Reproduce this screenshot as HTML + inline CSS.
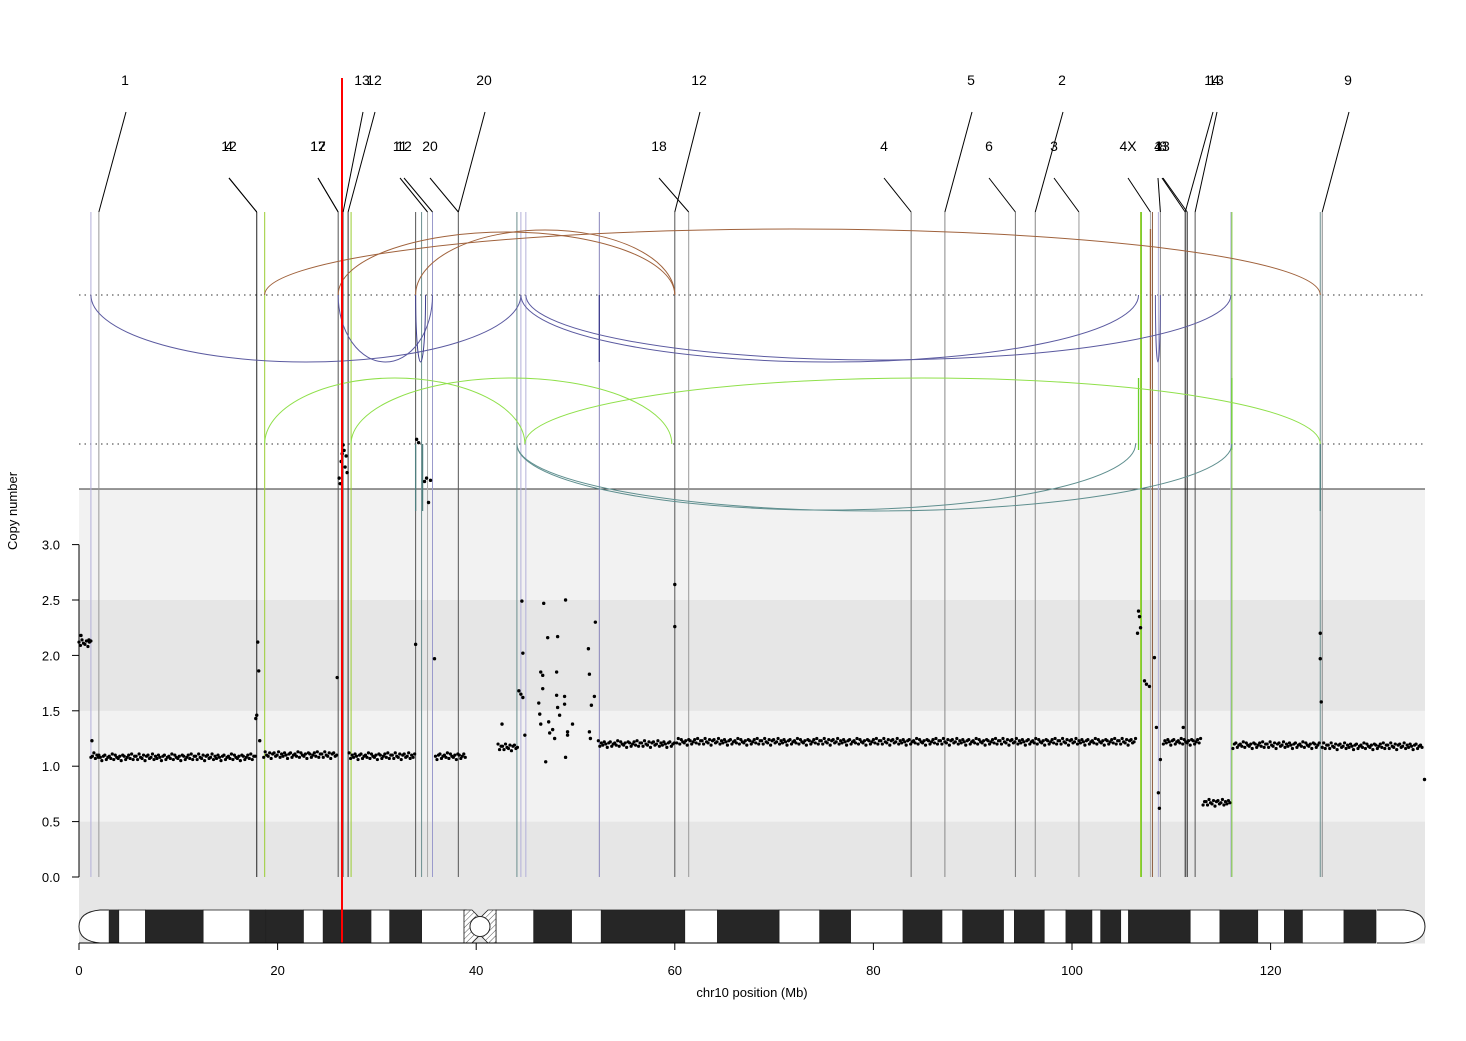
<!DOCTYPE html>
<html><head><meta charset="utf-8">
<style>
html,body{margin:0;padding:0;background:#fff;}
svg{display:block;font-family:"Liberation Sans",sans-serif;}
</style></head>
<body>
<svg id="chart" width="1466" height="1041" viewBox="0 0 1466 1041" xmlns="http://www.w3.org/2000/svg">
<g id="bg"></g><g id="vlines"></g><g id="arcs"></g><g id="pts"></g><g id="ideo"></g><g id="axes"></g><g id="labels"></g>
</svg>
<script>
// ---- data ----
const segStart = [0, 1.2, 2.0, 18.6, 27.2, 35.9, 42.2, 52.3, 60.2, 109.2, 113.2, 116.2, 125.2];
const segEnd   = [1.2, 2.0, 17.8, 26.0, 33.8, 39.0, 44.2, 60.0, 106.5, 113.0, 116.0, 125.0, 135.3];
const segLevel = [2.11, 1.09, 1.08, 1.1, 1.09, 1.09, 1.17, 1.2, 1.22, 1.22, 0.67, 1.19, 1.18];
const noise = [0.01,-0.02,0.03,0.0,-0.01,0.02,-0.03,0.01,0.02,-0.01,0.0,0.03,-0.02,0.01,-0.01,0.02,0.0,-0.03,0.01,0.02,-0.02,0.0,0.01,-0.01,0.03,-0.02,0.02,0.0,-0.01,0.01,-0.03,0.02,0.01,-0.02,0.0,0.02,-0.01,0.03,-0.02,0.01];
const outMb  = [1.0,0.2,1.3,17.8,17.9,18.0,18.1,18.2,26.0,26.2,26.4,26.5,26.6,26.7,26.8,26.9,27.0,26.3,33.9,34.0,34.2,34.8,35.0,35.2,35.4,35.8,42.6,44.3,44.5,44.7,44.6,46.8,49.0,52.0,47.2,48.2,44.7,51.3,46.5,48.1,46.7,51.4,46.7,48.1,51.9,48.9,48.9,51.6,46.3,46.4,48.2,47.3,48.4,49.7,46.5,47.7,47.4,47.9,49.2,49.2,51.4,44.9,51.5,47.0,49.0,60.0,60.0,106.6,106.7,106.8,106.9,107.3,107.5,107.8,108.3,108.5,108.7,108.8,108.9,125.0,125.0,125.1,135.5,111.2];
const outVal = [2.14,2.18,1.23,1.43,1.46,2.12,1.86,1.23,1.8,3.6,3.75,3.82,3.9,3.85,3.7,3.8,3.65,3.55,2.1,3.95,3.92,3.57,3.6,3.38,3.58,1.97,1.38,1.68,1.65,1.62,2.49,2.47,2.5,2.3,2.16,2.17,2.02,2.06,1.85,1.85,1.82,1.83,1.7,1.64,1.63,1.63,1.56,1.55,1.57,1.47,1.53,1.4,1.46,1.38,1.38,1.33,1.3,1.25,1.31,1.28,1.31,1.28,1.25,1.04,1.08,2.64,2.26,2.2,2.4,2.35,2.25,1.77,1.74,1.72,1.98,1.35,0.76,0.62,1.06,2.2,1.97,1.58,0.88,1.35];
const bandStart = [0,3,4,6.7,12.5,17.2,18.8,22.6,24.6,29.4,31.3,34.5,38.8,42.0,45.8,49.6,52.6,61.0,64.3,70.5,74.6,77.7,83.0,86.9,89.0,93.1,94.2,97.2,99.4,102.0,102.9,104.9,105.7,111.9,114.9,118.7,121.4,123.2,127.4,130.6];
const bandEnd   = [3,4,6.7,12.5,17.2,18.8,22.6,24.6,29.4,31.3,34.5,38.8,39.0,45.8,49.6,52.6,61.0,64.3,70.5,74.6,77.7,83.0,86.9,89.0,93.1,94.2,97.2,99.4,102.0,102.9,104.9,105.7,111.9,114.9,118.7,121.4,123.2,127.4,130.6,135.5];
const bandDark  = [0,1,0,1,0,1,1,0,1,0,1,0,0,0,1,0,1,0,1,0,1,0,1,0,1,0,1,0,1,0,1,0,1,0,1,0,1,0,1,0];
const breakMb = [1.2,2.0,17.9,18.7,26.1,26.6,27.1,27.4,33.9,34.5,35.1,35.6,38.2,44.1,44.5,45.0,52.4,60.0,61.4,83.8,87.2,94.3,96.3,100.7,106.9,107.0,107.9,108.1,108.7,108.9,111.4,111.6,112.4,116.0,116.1,125.0,125.2];
const breakCol = ["#b3b0d9","#999","#222","#9acd32","#555","#666","#333","#9acd32","#555","#6a8e8e","#aaa","#9a9acc","#555","#6a8e8e","#b3b0d9","#b3b0d9","#8884bb","#555","#999","#777","#888","#777","#888","#999","#9acd32","#7acd32","#aaa","#8b5a3c","#b3b0d9","#888","#222","#222","#555","#b3b0d9","#7acd32","#6a8e8e","#888"];
const row1Text = ["1","13","12","20","12","5","2","14","13","9"];
const row1X    = [125,362,374,484,699,971,1062,1212,1216,1348];
const row1Mb   = [2.0,26.6,27.1,38.2,60.0,87.2,96.3,111.4,112.4,125.2];
const row2Text = ["12","4","17","12","11","12","20","18","4","6","3","4X","4","13","8"];
const row2X    = [229,229,318,318,400,404,430,659,884,989,1054,1128,1158,1162,1163];
const row2Mb   = [17.9,17.9,26.1,26.1,35.1,35.6,38.2,61.4,83.8,94.3,100.7,107.9,108.9,111.4,111.6];
// arcs: [startMb, endMb, baseline y, height px (+up / -down), color]
const arcA = [18.7,26.1,33.9,1.2,26.1,33.9,44.5,45.0,108.4,18.7,27.4,44.9,44.1,44.1];
const arcB = [125.0,60.0,60.0,44.5,35.6,34.9,106.7,116.0,108.9,44.9,59.7,125.0,106.4,116.1];
const arcBase = [295,295,295,295,295,295,295,295,295,444,444,444,444,444];
const arcH = [66,63,65,-67,-67,-67,-67,-65,-67,66,66,66,-66,-67];
const arcCol = ["#a0623c","#a0623c","#a0623c","#5b5aa0","#5b5aa0","#3f3e8e","#5b5aa0","#5b5aa0","#5b5aa0","#8fe04a","#8fe04a","#8fe04a","#5f8f8f","#5f8f8f"];
const yTicks = [0,0.5,1,1.5,2,2.5,3];
const xTicks = [0,20,40,60,80,100,120];

// ---- scales ----
const X0=79, XS=9.93, Y0=877, YS=110.8;
const xs = m => X0 + m*XS;
const ys = v => Y0 - v*YS;
const NS="http://www.w3.org/2000/svg";
function mk(tag, parent, attrs){const e=document.createElementNS(NS,tag);for(const k in attrs)e.setAttribute(k,attrs[k]);document.getElementById(parent).appendChild(e);return e;}

// background panels
let e;
e=mk('rect','bg',{x:79,y:489,width:1346,height:454,fill:'#f2f2f2'});


[[0.5,-0.6],[2.5,1.5]].forEach(b=>{
  e=mk('rect','bg',{x:79,y:ys(b[0]),width:1346,height:ys(b[1])-ys(b[0]),fill:'#e6e6e6'});
  
  
});
e=mk('line','bg',{x1:79,x2:1425,y1:489,y2:489,stroke:'#333','stroke-width':1});


[295,444].forEach(y=>{
  e=mk('line','bg',{x1:79,x2:1425,y1:y,y2:y,stroke:'#333','stroke-width':1,'stroke-dasharray':'1.5,4'});
  
  
});

// breakpoint vertical lines
breakMb.forEach((m,i)=>{
  e=mk('line','vlines',{x1:xs(m),x2:xs(m),y1:212,y2:877,stroke:breakCol[i],'stroke-width':1});
  
  
});
// small vertical segments
[[52.4,295,362,'#3f3e8e'],[107.9,229,444,'#a0623c'],[106.7,378,450,'#6ad02a'],[116.1,378,450,'#6ad02a'],[125.0,444,511,'#4f7f7f'],[33.9,444,511,'#4f7f7f'],[34.6,444,511,'#4f7f7f']].forEach(s=>{
  e=mk('line','vlines',{x1:xs(s[0]),x2:xs(s[0]),y1:s[1],y2:s[2],stroke:s[3],'stroke-width':1.3});
  
  
});

// arcs
arcA.forEach((a,i)=>{
  const x1=xs(a), x2=xs(arcB[i]), y=arcBase[i], h=arcH[i];
  const rx=Math.abs(x2-x1)/2, ry=Math.abs(h);
  const sweep = (h>0) === (x2>x1) ? 1 : 0;
  e=mk('path','arcs',{d:`M${x1},${y} A${rx},${ry} 0 0 ${sweep} ${x2},${y}`,fill:'none',stroke:arcCol[i],'stroke-width':1});
  
  
});

// points
let k=0;
segStart.forEach((s,i)=>{
  for(let m=s;m<=segEnd[i]+1e-6;m+=0.15){
    const v=segLevel[i]+noise[k%noise.length]; k++;
    e=mk('circle','pts',{cx:xs(m),cy:ys(v),r:1.6,fill:'#000'});
    
    
  }
});
outMb.forEach((m,i)=>{
  e=mk('circle','pts',{cx:xs(m),cy:ys(outVal[i]),r:1.7,fill:'#000'});
  
  
});

// ideogram
bandStart.forEach((s,i)=>{
  if(i===0||i===bandStart.length-1) return;
  e=mk('rect','ideo',{x:xs(s),y:910,width:xs(bandEnd[i])-xs(s),height:33,fill:bandDark[i]?'#262626':'#fff',stroke:'#222','stroke-width':0.8});
  
  
});
e=mk('path','ideo',{d:`M${xs(3)},910 L100,910 Q79,912 79,926.5 Q79,941 100,943 L${xs(3)},943`,fill:'#fff',stroke:'#222','stroke-width':1});


e=mk('path','ideo',{d:`M1377,910 L1404,910 Q1425,912 1425,926.5 Q1425,941 1404,943 L1377,943`,fill:'#fff',stroke:'#222','stroke-width':1});


const defs=mk('defs','ideo',{});
defs.innerHTML='<pattern id="hatch" width="4" height="4" patternUnits="userSpaceOnUse" patternTransform="rotate(45)"><rect width="4" height="4" fill="#fff"/><line x1="0" y1="0" x2="0" y2="4" stroke="#555" stroke-width="1"/></pattern>';
e=mk('path','ideo',{d:`M464,910 L472,910 L480,918 L488,910 L496,910 L496,943 L488,943 L480,935 L472,943 L464,943 Z`,fill:'url(#hatch)',stroke:'#222','stroke-width':0.8});


e=mk('circle','ideo',{cx:480,cy:926.5,r:10,fill:'#fff',stroke:'#222','stroke-width':1});



// red marker
e=mk('line','ideo',{x1:342,x2:342,y1:78,y2:943,stroke:'#f00','stroke-width':2});



// axes
e=mk('line','axes',{x1:79,x2:79,y1:ys(3),y2:ys(0),stroke:'#000'});


yTicks.forEach(t=>{
  mk('line','axes',{x1:72,x2:79,y1:ys(t),y2:ys(t),stroke:'#000'});
  e=mk('text','axes',{x:60,y:ys(t)+5,'text-anchor':'end','font-size':13,fill:'#000'});
  e.textContent=t.toFixed(1);
  
  
});
e=mk('text','axes',{x:17,y:511,'text-anchor':'middle','font-size':13,transform:'rotate(-90 17 511)'});
e.textContent='Copy number';


e=mk('line','axes',{x1:79,x2:xs(120),y1:943,y2:943,stroke:'#000'});


xTicks.forEach(t=>{
  mk('line','axes',{x1:xs(t),x2:xs(t),y1:943,y2:950,stroke:'#000'});
  e=mk('text','axes',{x:xs(t),y:975,'text-anchor':'middle','font-size':13});
  e.textContent=t;
  
  
});
e=mk('text','axes',{x:752,y:997,'text-anchor':'middle','font-size':13});
e.textContent='chr10 position (Mb)';



// labels + connectors
row1Text.forEach((t,i)=>{
  e=mk('text','labels',{x:row1X[i],y:85,'text-anchor':'middle','font-size':14});
  e.textContent=t;
  
  
  e=mk('line','labels',{x1:row1X[i]+1,y1:112,x2:xs(row1Mb[i]),y2:212,stroke:'#000'});
  
  
});
row2Text.forEach((t,i)=>{
  e=mk('text','labels',{x:row2X[i],y:151,'text-anchor':'middle','font-size':14});
  e.textContent=t;
  
  
  e=mk('line','labels',{x1:row2X[i],y1:178,x2:xs(row2Mb[i]),y2:212,stroke:'#000'});
  
  
});
</script>
</body></html>
